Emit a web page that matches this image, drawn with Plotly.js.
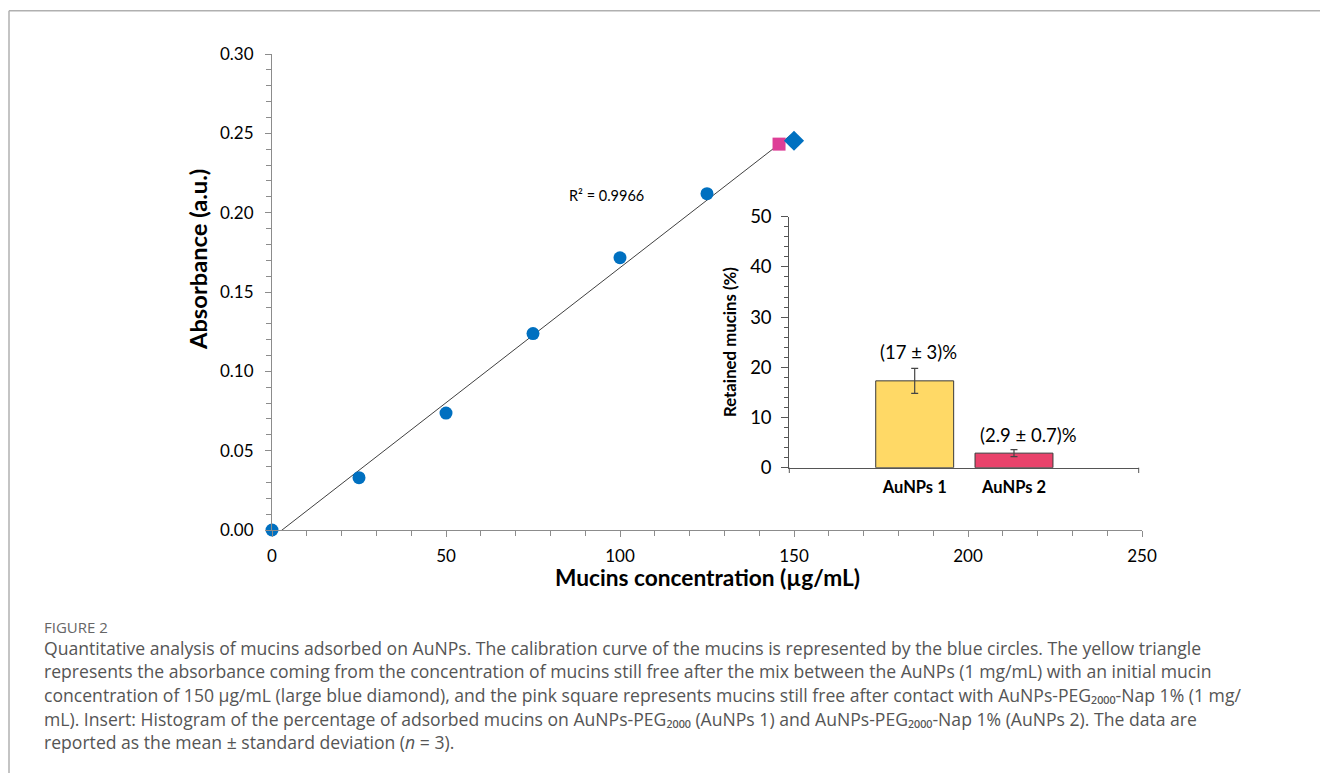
<!DOCTYPE html>
<html>
<head>
<meta charset="utf-8">
<script src="https://cdn.plot.ly/plotly-3.0.1.min.js"></script>
<style>html,body{margin:0;padding:0;background:#fff;}#chart{width:1320px;height:773px;}</style>
</head>
<body>
<div id="chart"></div>
<script>
// Calibration curve (blue circles)
const calibConc = [0, 25, 50, 75, 100, 125];
const calibAbs = [0.000, 0.0330, 0.0737, 0.1238, 0.1716, 0.2120];
// Initial mucin concentration (large blue diamond)
const diamondConc = [150];
const diamondAbs = [0.2453];
// Mucins still free after contact with AuNPs-PEG2000-Nap 1% (pink square)
const squareConc = [145.7];
const squareAbs = [0.2432];
const r2Label = "R² = 0.9966";

// Inset histogram
const insetCats = ["AuNPs 1", "AuNPs 2"];
const insetVals = [17.3, 2.9];
const insetErr = [2.5, 0.7];
const insetLabels = ["(17 ± 3)%", "(2.9 ± 0.7)%"];

const captionTitle = "FIGURE 2";
const captionLines = [
  "Quantitative analysis of mucins adsorbed on AuNPs. The calibration curve of the mucins is represented by the blue circles. The yellow triangle",
  "represents the absorbance coming from the concentration of mucins still free after the mix between the AuNPs (1 mg/mL) with an initial mucin",
  "concentration of 150 μg/mL (large blue diamond), and the pink square represents mucins still free after contact with AuNPs-PEG₂₀₀₀-Nap 1% (1 mg/",
  "mL). Insert: Histogram of the percentage of adsorbed mucins on AuNPs-PEG₂₀₀₀ (AuNPs 1) and AuNPs-PEG₂₀₀₀-Nap 1% (AuNPs 2). The data are",
  "reported as the mean ± standard deviation (<i>n</i> = 3)."
];

// Linear trendline through calibration points and the 150 µg/mL point
const fitX = calibConc.concat(diamondConc);
const fitY = calibAbs.concat(diamondAbs);
const n = fitX.length;
const mx = fitX.reduce((a,b)=>a+b,0)/n;
const my = fitY.reduce((a,b)=>a+b,0)/n;
let sxy = 0, sxx = 0;
for (let i=0;i<n;i++){ sxy += (fitX[i]-mx)*(fitY[i]-my); sxx += (fitX[i]-mx)**2; }
const slope = sxy/sxx, intercept = my - slope*mx;
const lineX = [Math.min(...fitX), Math.max(...fitX)];
const lineY = lineX.map(x => slope*x + intercept);

const W = 1320, H = 773;
const px = v => v / W;
const py = v => 1 - v / H;
const FONT = "Lato, Carlito, 'Liberation Sans', sans-serif";
const CAPFONT = "'Open Sans', 'Noto Sans', sans-serif";

const traces = [
  {x: lineX, y: lineY, mode: 'lines', line: {color: '#404040', width: 1}, hoverinfo: 'skip', xaxis: 'x', yaxis: 'y', showlegend: false},
  {x: calibConc, y: calibAbs, mode: 'markers', marker: {color: '#0070C0', size: 13, symbol: 'circle'}, cliponaxis: false, xaxis: 'x', yaxis: 'y', showlegend: false},
  {x: squareConc, y: squareAbs, mode: 'markers', marker: {color: '#DE3E97', size: 13, symbol: 'square'}, cliponaxis: false, xaxis: 'x', yaxis: 'y', showlegend: false},
  {x: diamondConc, y: diamondAbs, mode: 'markers', marker: {color: '#0070C0', size: 15.5, symbol: 'diamond'}, cliponaxis: false, xaxis: 'x', yaxis: 'y', showlegend: false},
  {type: 'bar', x: insetCats, y: insetVals, width: 0.785,
   marker: {color: ['#FFD966', '#E9436B'], line: {color: '#3a3a3a', width: 1}},
   error_y: {type: 'data', array: insetErr, visible: true, color: '#444', thickness: 1.2, width: 3.5},
   xaxis: 'x2', yaxis: 'y2', showlegend: false}
];

const annotations = [
  {xref: 'paper', yref: 'paper', x: px(606), y: py(195), text: r2Label, showarrow: false, xanchor: 'center', yanchor: 'middle', font: {family: FONT, size: 14.5, color: '#000'}},
  {xref: 'paper', yref: 'paper', x: px(198), y: py(260), text: 'Absorbance (a.u.)', textangle: -90, showarrow: false, xanchor: 'center', yanchor: 'middle', font: {family: FONT, size: 23.7, color: '#000', weight: 'bold'}},
  {xref: 'paper', yref: 'paper', x: px(707), y: py(577), text: 'Mucins concentration (µg/mL)', showarrow: false, xanchor: 'center', yanchor: 'middle', font: {family: FONT, size: 22.7, color: '#000', weight: 'bold'}},
  {xref: 'paper', yref: 'paper', x: px(729), y: py(342), text: 'Retained mucins (%)', textangle: -90, showarrow: false, xanchor: 'center', yanchor: 'middle', font: {family: FONT, size: 16.8, color: '#000', weight: 'bold'}},
  {xref: 'x2', yref: 'y2', x: insetCats[0], y: insetVals[0] + insetErr[0], text: insetLabels[0], showarrow: false, xanchor: 'center', yanchor: 'bottom', xshift: 4, yshift: 3, font: {family: FONT, size: 18.5, color: '#000'}},
  {xref: 'x2', yref: 'y2', x: insetCats[1], y: insetVals[1] + insetErr[1], text: insetLabels[1], showarrow: false, xanchor: 'center', yanchor: 'bottom', xshift: 15, yshift: 2, font: {family: FONT, size: 18.5, color: '#000'}},
  {xref: 'paper', yref: 'paper', x: px(42), y: py(626.5), text: captionTitle, showarrow: false, xanchor: 'left', yanchor: 'middle', font: {family: CAPFONT, size: 15, color: '#666'}}
];
const capY = [647.5, 671, 695, 718.5, 742];
captionLines.forEach((t, i) => annotations.push({
  xref: 'paper', yref: 'paper', x: px(42), y: py(capY[i]), text: t, showarrow: false, xanchor: 'left', yanchor: 'middle',
  font: {family: CAPFONT, size: 17.6, color: '#555'}
}));

const axisGray = '#8c8c8c';
const layout = {
  width: W, height: H,
  margin: {l: 0, r: 0, t: 0, b: 0},
  paper_bgcolor: '#fff', plot_bgcolor: 'rgba(0,0,0,0)',
  font: {family: FONT, color: '#000'},
  showlegend: false,
  xaxis: {domain: [px(272), px(1142)], range: [0, 250], dtick: 50, tick0: 0,
    showline: true, linecolor: axisGray, linewidth: 1, showgrid: false, zeroline: false,
    ticks: 'outside', ticklen: 6, tickcolor: axisGray, ticklabelstandoff: 5,
    minor: {dtick: 10, ticks: 'outside', ticklen: 5, tickcolor: axisGray, showgrid: false},
    tickfont: {family: FONT, size: 17, color: '#000'}, anchor: 'y', fixedrange: true},
  yaxis: {domain: [1 - 530/H, 1 - 54/H], range: [0, 0.30], dtick: 0.05, tick0: 0, tickformat: '.2f',
    showline: true, linecolor: axisGray, linewidth: 1, showgrid: false, zeroline: false,
    ticks: 'outside', ticklen: 6, tickcolor: axisGray, ticklabelstandoff: 8,
    minor: {dtick: 0.01, ticks: 'outside', ticklen: 5, tickcolor: axisGray, showgrid: false},
    tickfont: {family: FONT, size: 17, color: '#000'}, anchor: 'x', fixedrange: true},
  xaxis2: {domain: [px(789.3), px(1138.7)], type: 'category', range: [-1.263, 2.256],
    showline: true, linecolor: '#555', linewidth: 1, showgrid: false, zeroline: false,
    ticks: '', ticklabelstandoff: 4,
    tickfont: {family: FONT, size: 16.5, color: '#000', weight: 'bold'}, anchor: 'y2', fixedrange: true},
  yaxis2: {domain: [1 - 467.7/H, 1 - 216.7/H], range: [0, 50], dtick: 10,
    showline: true, linecolor: '#555', linewidth: 1, showgrid: false, zeroline: false,
    ticks: 'outside', ticklen: 7, tickcolor: '#555', ticklabelstandoff: 6,
    minor: {dtick: 2, ticks: 'outside', ticklen: 4, tickcolor: '#555', showgrid: false},
    tickfont: {family: FONT, size: 18.5, color: '#000'}, anchor: 'x2', fixedrange: true},
  annotations: annotations,
  shapes: [
    {type: 'line', xref: 'paper', yref: 'paper', x0: px(9), x1: 1, y0: py(10.7), y1: py(10.7), line: {color: '#b0b0b0', width: 1.5}},
    {type: 'line', xref: 'paper', yref: 'paper', x0: px(9), x1: px(9), y0: py(10.7), y1: 0, line: {color: '#b0b0b0', width: 1.5}},
    {type: 'line', xref: 'paper', yref: 'paper', x0: px(789.3), x1: px(789.3), y0: py(467.7), y1: py(473), line: {color: '#555', width: 1}},
    {type: 'line', xref: 'paper', yref: 'paper', x0: px(1138.7), x1: px(1138.7), y0: py(467.7), y1: py(473), line: {color: '#555', width: 1}}
  ]
};

Plotly.newPlot('chart', traces, layout, {staticPlot: true, displayModeBar: false});
</script>
</body>
</html>
